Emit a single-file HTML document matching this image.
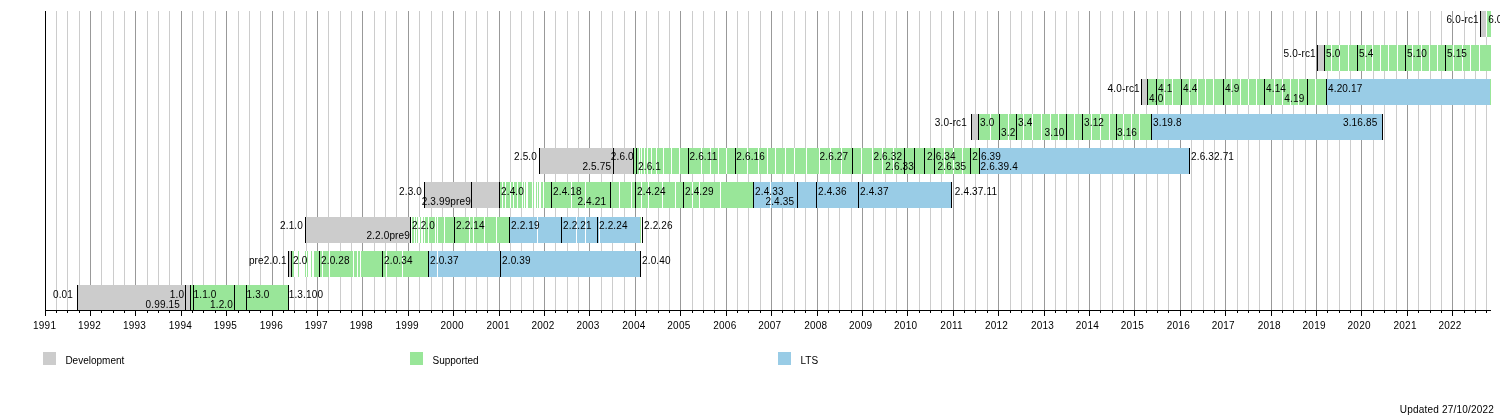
<!DOCTYPE html><html><head><meta charset="utf-8"><style>html,body{margin:0;padding:0;background:#fff;}svg{display:block;will-change:transform;}text{font-family:'Liberation Sans', Arial, Helvetica, sans-serif;font-size:10px;fill:#000;}text.l{letter-spacing:0.15px;}text.y{letter-spacing:0.25px;}</style></head><body>
<svg width="1500" height="420" viewBox="0 0 1500 420">
<rect x="0" y="0" width="1500" height="420" fill="#fff"/>
<g shape-rendering="crispEdges">
<rect x="56" y="11" width="1" height="299" fill="#cccccc"/>
<rect x="67" y="11" width="1" height="299" fill="#cccccc"/>
<rect x="79" y="11" width="1" height="299" fill="#cccccc"/>
<rect x="90" y="11" width="1" height="299" fill="#999999"/>
<rect x="101" y="11" width="1" height="299" fill="#cccccc"/>
<rect x="113" y="11" width="1" height="299" fill="#cccccc"/>
<rect x="124" y="11" width="1" height="299" fill="#cccccc"/>
<rect x="135" y="11" width="1" height="299" fill="#999999"/>
<rect x="147" y="11" width="1" height="299" fill="#cccccc"/>
<rect x="158" y="11" width="1" height="299" fill="#cccccc"/>
<rect x="169" y="11" width="1" height="299" fill="#cccccc"/>
<rect x="181" y="11" width="1" height="299" fill="#999999"/>
<rect x="192" y="11" width="1" height="299" fill="#cccccc"/>
<rect x="203" y="11" width="1" height="299" fill="#cccccc"/>
<rect x="215" y="11" width="1" height="299" fill="#cccccc"/>
<rect x="226" y="11" width="1" height="299" fill="#999999"/>
<rect x="238" y="11" width="1" height="299" fill="#cccccc"/>
<rect x="249" y="11" width="1" height="299" fill="#cccccc"/>
<rect x="260" y="11" width="1" height="299" fill="#cccccc"/>
<rect x="272" y="11" width="1" height="299" fill="#999999"/>
<rect x="283" y="11" width="1" height="299" fill="#cccccc"/>
<rect x="294" y="11" width="1" height="299" fill="#cccccc"/>
<rect x="306" y="11" width="1" height="299" fill="#cccccc"/>
<rect x="317" y="11" width="1" height="299" fill="#999999"/>
<rect x="328" y="11" width="1" height="299" fill="#cccccc"/>
<rect x="340" y="11" width="1" height="299" fill="#cccccc"/>
<rect x="351" y="11" width="1" height="299" fill="#cccccc"/>
<rect x="362" y="11" width="1" height="299" fill="#999999"/>
<rect x="374" y="11" width="1" height="299" fill="#cccccc"/>
<rect x="385" y="11" width="1" height="299" fill="#cccccc"/>
<rect x="396" y="11" width="1" height="299" fill="#cccccc"/>
<rect x="408" y="11" width="1" height="299" fill="#999999"/>
<rect x="419" y="11" width="1" height="299" fill="#cccccc"/>
<rect x="431" y="11" width="1" height="299" fill="#cccccc"/>
<rect x="442" y="11" width="1" height="299" fill="#cccccc"/>
<rect x="453" y="11" width="1" height="299" fill="#999999"/>
<rect x="465" y="11" width="1" height="299" fill="#cccccc"/>
<rect x="476" y="11" width="1" height="299" fill="#cccccc"/>
<rect x="487" y="11" width="1" height="299" fill="#cccccc"/>
<rect x="499" y="11" width="1" height="299" fill="#999999"/>
<rect x="510" y="11" width="1" height="299" fill="#cccccc"/>
<rect x="521" y="11" width="1" height="299" fill="#cccccc"/>
<rect x="533" y="11" width="1" height="299" fill="#cccccc"/>
<rect x="544" y="11" width="1" height="299" fill="#999999"/>
<rect x="555" y="11" width="1" height="299" fill="#cccccc"/>
<rect x="567" y="11" width="1" height="299" fill="#cccccc"/>
<rect x="578" y="11" width="1" height="299" fill="#cccccc"/>
<rect x="589" y="11" width="1" height="299" fill="#999999"/>
<rect x="601" y="11" width="1" height="299" fill="#cccccc"/>
<rect x="612" y="11" width="1" height="299" fill="#cccccc"/>
<rect x="624" y="11" width="1" height="299" fill="#cccccc"/>
<rect x="635" y="11" width="1" height="299" fill="#999999"/>
<rect x="646" y="11" width="1" height="299" fill="#cccccc"/>
<rect x="658" y="11" width="1" height="299" fill="#cccccc"/>
<rect x="669" y="11" width="1" height="299" fill="#cccccc"/>
<rect x="680" y="11" width="1" height="299" fill="#999999"/>
<rect x="692" y="11" width="1" height="299" fill="#cccccc"/>
<rect x="703" y="11" width="1" height="299" fill="#cccccc"/>
<rect x="714" y="11" width="1" height="299" fill="#cccccc"/>
<rect x="726" y="11" width="1" height="299" fill="#999999"/>
<rect x="737" y="11" width="1" height="299" fill="#cccccc"/>
<rect x="748" y="11" width="1" height="299" fill="#cccccc"/>
<rect x="760" y="11" width="1" height="299" fill="#cccccc"/>
<rect x="771" y="11" width="1" height="299" fill="#999999"/>
<rect x="782" y="11" width="1" height="299" fill="#cccccc"/>
<rect x="794" y="11" width="1" height="299" fill="#cccccc"/>
<rect x="805" y="11" width="1" height="299" fill="#cccccc"/>
<rect x="817" y="11" width="1" height="299" fill="#999999"/>
<rect x="828" y="11" width="1" height="299" fill="#cccccc"/>
<rect x="839" y="11" width="1" height="299" fill="#cccccc"/>
<rect x="851" y="11" width="1" height="299" fill="#cccccc"/>
<rect x="862" y="11" width="1" height="299" fill="#999999"/>
<rect x="873" y="11" width="1" height="299" fill="#cccccc"/>
<rect x="885" y="11" width="1" height="299" fill="#cccccc"/>
<rect x="896" y="11" width="1" height="299" fill="#cccccc"/>
<rect x="907" y="11" width="1" height="299" fill="#999999"/>
<rect x="919" y="11" width="1" height="299" fill="#cccccc"/>
<rect x="930" y="11" width="1" height="299" fill="#cccccc"/>
<rect x="941" y="11" width="1" height="299" fill="#cccccc"/>
<rect x="953" y="11" width="1" height="299" fill="#999999"/>
<rect x="964" y="11" width="1" height="299" fill="#cccccc"/>
<rect x="975" y="11" width="1" height="299" fill="#cccccc"/>
<rect x="987" y="11" width="1" height="299" fill="#cccccc"/>
<rect x="998" y="11" width="1" height="299" fill="#999999"/>
<rect x="1010" y="11" width="1" height="299" fill="#cccccc"/>
<rect x="1021" y="11" width="1" height="299" fill="#cccccc"/>
<rect x="1032" y="11" width="1" height="299" fill="#cccccc"/>
<rect x="1044" y="11" width="1" height="299" fill="#999999"/>
<rect x="1055" y="11" width="1" height="299" fill="#cccccc"/>
<rect x="1066" y="11" width="1" height="299" fill="#cccccc"/>
<rect x="1078" y="11" width="1" height="299" fill="#cccccc"/>
<rect x="1089" y="11" width="1" height="299" fill="#999999"/>
<rect x="1100" y="11" width="1" height="299" fill="#cccccc"/>
<rect x="1112" y="11" width="1" height="299" fill="#cccccc"/>
<rect x="1123" y="11" width="1" height="299" fill="#cccccc"/>
<rect x="1134" y="11" width="1" height="299" fill="#999999"/>
<rect x="1146" y="11" width="1" height="299" fill="#cccccc"/>
<rect x="1157" y="11" width="1" height="299" fill="#cccccc"/>
<rect x="1168" y="11" width="1" height="299" fill="#cccccc"/>
<rect x="1180" y="11" width="1" height="299" fill="#999999"/>
<rect x="1191" y="11" width="1" height="299" fill="#cccccc"/>
<rect x="1203" y="11" width="1" height="299" fill="#cccccc"/>
<rect x="1214" y="11" width="1" height="299" fill="#cccccc"/>
<rect x="1225" y="11" width="1" height="299" fill="#999999"/>
<rect x="1237" y="11" width="1" height="299" fill="#cccccc"/>
<rect x="1248" y="11" width="1" height="299" fill="#cccccc"/>
<rect x="1259" y="11" width="1" height="299" fill="#cccccc"/>
<rect x="1271" y="11" width="1" height="299" fill="#999999"/>
<rect x="1282" y="11" width="1" height="299" fill="#cccccc"/>
<rect x="1293" y="11" width="1" height="299" fill="#cccccc"/>
<rect x="1305" y="11" width="1" height="299" fill="#cccccc"/>
<rect x="1316" y="11" width="1" height="299" fill="#999999"/>
<rect x="1327" y="11" width="1" height="299" fill="#cccccc"/>
<rect x="1339" y="11" width="1" height="299" fill="#cccccc"/>
<rect x="1350" y="11" width="1" height="299" fill="#cccccc"/>
<rect x="1361" y="11" width="1" height="299" fill="#999999"/>
<rect x="1373" y="11" width="1" height="299" fill="#cccccc"/>
<rect x="1384" y="11" width="1" height="299" fill="#cccccc"/>
<rect x="1396" y="11" width="1" height="299" fill="#cccccc"/>
<rect x="1407" y="11" width="1" height="299" fill="#999999"/>
<rect x="1418" y="11" width="1" height="299" fill="#cccccc"/>
<rect x="1430" y="11" width="1" height="299" fill="#cccccc"/>
<rect x="1441" y="11" width="1" height="299" fill="#cccccc"/>
<rect x="1452" y="11" width="1" height="299" fill="#999999"/>
<rect x="1464" y="11" width="1" height="299" fill="#cccccc"/>
<rect x="1475" y="11" width="1" height="299" fill="#cccccc"/>
<rect x="1486" y="11" width="1" height="299" fill="#cccccc"/>
</g>
<g shape-rendering="crispEdges">
<rect x="1481" y="11" width="5" height="26" fill="#cccccc"/>
<rect x="1487" y="11" width="4" height="26" fill="#99e699"/>
<rect x="1486" y="11" width="1" height="26" fill="#fff"/>
<rect x="1480" y="11" width="1" height="26" fill="#000"/>
</g>
<text class="l" x="1478.8" y="23.4" text-anchor="end">6.0-rc1</text>
<text class="l" x="1488.2" y="23.4">6.0</text>
<g shape-rendering="crispEdges">
<rect x="1318" y="45" width="6" height="26" fill="#cccccc"/>
<rect x="1325" y="45" width="166" height="26" fill="#99e699"/>
<rect x="1331" y="45" width="1" height="26" fill="#fff"/>
<rect x="1339" y="45" width="1" height="26" fill="#fff"/>
<rect x="1348" y="45" width="1" height="26" fill="#fff"/>
<rect x="1365" y="45" width="1" height="26" fill="#fff"/>
<rect x="1372" y="45" width="1" height="26" fill="#fff"/>
<rect x="1380" y="45" width="1" height="26" fill="#fff"/>
<rect x="1388" y="45" width="1" height="26" fill="#fff"/>
<rect x="1397" y="45" width="1" height="26" fill="#fff"/>
<rect x="1412" y="45" width="1" height="26" fill="#fff"/>
<rect x="1421" y="45" width="1" height="26" fill="#fff"/>
<rect x="1429" y="45" width="1" height="26" fill="#fff"/>
<rect x="1437" y="45" width="1" height="26" fill="#fff"/>
<rect x="1453" y="45" width="1" height="26" fill="#fff"/>
<rect x="1462" y="45" width="1" height="26" fill="#fff"/>
<rect x="1470" y="45" width="1" height="26" fill="#fff"/>
<rect x="1479" y="45" width="1" height="26" fill="#fff"/>
<rect x="1317" y="45" width="1" height="26" fill="#000"/>
<rect x="1324" y="45" width="1" height="26" fill="#000"/>
<rect x="1357" y="45" width="1" height="26" fill="#000"/>
<rect x="1405" y="45" width="1" height="26" fill="#000"/>
<rect x="1445" y="45" width="1" height="26" fill="#000"/>
</g>
<text class="l" x="1315.8" y="57.4" text-anchor="end">5.0-rc1</text>
<text class="l" x="1326.0" y="57.4">5.0</text>
<text class="l" x="1359.0" y="57.4">5.4</text>
<text class="l" x="1407.0" y="57.4">5.10</text>
<text class="l" x="1447.0" y="57.4">5.15</text>
<g shape-rendering="crispEdges">
<rect x="1142" y="79" width="5" height="26" fill="#cccccc"/>
<rect x="1148" y="79" width="178" height="26" fill="#99e699"/>
<rect x="1327" y="79" width="163" height="26" fill="#99cce6"/>
<rect x="1490" y="79" width="1" height="26" fill="#99e699"/>
<rect x="1164" y="79" width="1" height="26" fill="#fff"/>
<rect x="1172" y="79" width="1" height="26" fill="#fff"/>
<rect x="1189" y="79" width="1" height="26" fill="#fff"/>
<rect x="1197" y="79" width="1" height="26" fill="#fff"/>
<rect x="1205" y="79" width="1" height="26" fill="#fff"/>
<rect x="1213" y="79" width="1" height="26" fill="#fff"/>
<rect x="1231" y="79" width="1" height="26" fill="#fff"/>
<rect x="1240" y="79" width="1" height="26" fill="#fff"/>
<rect x="1248" y="79" width="1" height="26" fill="#fff"/>
<rect x="1256" y="79" width="1" height="26" fill="#fff"/>
<rect x="1274" y="79" width="1" height="26" fill="#fff"/>
<rect x="1282" y="79" width="1" height="26" fill="#fff"/>
<rect x="1290" y="79" width="1" height="26" fill="#fff"/>
<rect x="1298" y="79" width="1" height="26" fill="#fff"/>
<rect x="1315" y="79" width="1" height="26" fill="#fff"/>
<rect x="1141" y="79" width="1" height="26" fill="#000"/>
<rect x="1147" y="79" width="1" height="26" fill="#000"/>
<rect x="1156" y="79" width="1" height="26" fill="#000"/>
<rect x="1181" y="79" width="1" height="26" fill="#000"/>
<rect x="1223" y="79" width="1" height="26" fill="#000"/>
<rect x="1264" y="79" width="1" height="26" fill="#000"/>
<rect x="1307" y="79" width="1" height="26" fill="#000"/>
<rect x="1326" y="79" width="1" height="26" fill="#000"/>
</g>
<text class="l" x="1139.8" y="92.4" text-anchor="end">4.0-rc1</text>
<text class="l" x="1149.0" y="102.4">4.0</text>
<text class="l" x="1158.0" y="92.4">4.1</text>
<text class="l" x="1183.0" y="92.4">4.4</text>
<text class="l" x="1225.0" y="92.4">4.9</text>
<text class="l" x="1266.0" y="92.4">4.14</text>
<text class="l" x="1304.4" y="102.4" text-anchor="end">4.19</text>
<text class="l" x="1328.0" y="92.4">4.20.17</text>
<g shape-rendering="crispEdges">
<rect x="972" y="114" width="6" height="26" fill="#cccccc"/>
<rect x="979" y="114" width="172" height="26" fill="#99e699"/>
<rect x="1152" y="114" width="230" height="26" fill="#99cce6"/>
<rect x="990" y="114" width="1" height="26" fill="#fff"/>
<rect x="1008" y="114" width="1" height="26" fill="#fff"/>
<rect x="1023" y="114" width="1" height="26" fill="#fff"/>
<rect x="1032" y="114" width="1" height="26" fill="#fff"/>
<rect x="1041" y="114" width="1" height="26" fill="#fff"/>
<rect x="1050" y="114" width="1" height="26" fill="#fff"/>
<rect x="1058" y="114" width="1" height="26" fill="#fff"/>
<rect x="1074" y="114" width="1" height="26" fill="#fff"/>
<rect x="1091" y="114" width="1" height="26" fill="#fff"/>
<rect x="1100" y="114" width="1" height="26" fill="#fff"/>
<rect x="1109" y="114" width="1" height="26" fill="#fff"/>
<rect x="1123" y="114" width="1" height="26" fill="#fff"/>
<rect x="1131" y="114" width="1" height="26" fill="#fff"/>
<rect x="1139" y="114" width="1" height="26" fill="#fff"/>
<rect x="971" y="114" width="1" height="26" fill="#000"/>
<rect x="978" y="114" width="1" height="26" fill="#000"/>
<rect x="999" y="114" width="1" height="26" fill="#000"/>
<rect x="1016" y="114" width="1" height="26" fill="#000"/>
<rect x="1066" y="114" width="1" height="26" fill="#000"/>
<rect x="1082" y="114" width="1" height="26" fill="#000"/>
<rect x="1116" y="114" width="1" height="26" fill="#000"/>
<rect x="1151" y="114" width="1" height="26" fill="#000"/>
<rect x="1382" y="114" width="1" height="26" fill="#000"/>
</g>
<text class="l" x="967.0" y="126.4" text-anchor="end">3.0-rc1</text>
<text class="l" x="980.0" y="126.4">3.0</text>
<text class="l" x="1001.0" y="136.4">3.2</text>
<text class="l" x="1018.0" y="126.4">3.4</text>
<text class="l" x="1064.6" y="136.4" text-anchor="end">3.10</text>
<text class="l" x="1084.0" y="126.4">3.12</text>
<text class="l" x="1117.0" y="136.4">3.16</text>
<text class="l" x="1153.0" y="126.4">3.19.8</text>
<text class="l" x="1377.4" y="126.4" text-anchor="end">3.16.85</text>
<g shape-rendering="crispEdges">
<rect x="540" y="148" width="93" height="26" fill="#cccccc"/>
<rect x="634" y="148" width="345" height="26" fill="#99e699"/>
<rect x="980" y="148" width="209" height="26" fill="#99cce6"/>
<rect x="639" y="148" width="1" height="26" fill="#fff"/>
<rect x="641" y="148" width="1" height="26" fill="#fff"/>
<rect x="644" y="148" width="1" height="26" fill="#fff"/>
<rect x="647" y="148" width="1" height="26" fill="#fff"/>
<rect x="651" y="148" width="1" height="26" fill="#fff"/>
<rect x="656" y="148" width="1" height="26" fill="#fff"/>
<rect x="663" y="148" width="1" height="26" fill="#fff"/>
<rect x="671" y="148" width="1" height="26" fill="#fff"/>
<rect x="679" y="148" width="1" height="26" fill="#fff"/>
<rect x="701" y="148" width="1" height="26" fill="#fff"/>
<rect x="710" y="148" width="1" height="26" fill="#fff"/>
<rect x="718" y="148" width="1" height="26" fill="#fff"/>
<rect x="726" y="148" width="1" height="26" fill="#fff"/>
<rect x="747" y="148" width="1" height="26" fill="#fff"/>
<rect x="758" y="148" width="1" height="26" fill="#fff"/>
<rect x="767" y="148" width="1" height="26" fill="#fff"/>
<rect x="775" y="148" width="1" height="26" fill="#fff"/>
<rect x="785" y="148" width="1" height="26" fill="#fff"/>
<rect x="794" y="148" width="1" height="26" fill="#fff"/>
<rect x="806" y="148" width="1" height="26" fill="#fff"/>
<rect x="819" y="148" width="1" height="26" fill="#fff"/>
<rect x="830" y="148" width="1" height="26" fill="#fff"/>
<rect x="841" y="148" width="1" height="26" fill="#fff"/>
<rect x="861" y="148" width="1" height="26" fill="#fff"/>
<rect x="872" y="148" width="1" height="26" fill="#fff"/>
<rect x="882" y="148" width="1" height="26" fill="#fff"/>
<rect x="893" y="148" width="1" height="26" fill="#fff"/>
<rect x="944" y="148" width="1" height="26" fill="#fff"/>
<rect x="953" y="148" width="1" height="26" fill="#fff"/>
<rect x="962" y="148" width="1" height="26" fill="#fff"/>
<rect x="539" y="148" width="1" height="26" fill="#000"/>
<rect x="613" y="148" width="1" height="26" fill="#000"/>
<rect x="633" y="148" width="1" height="26" fill="#000"/>
<rect x="636" y="148" width="1" height="26" fill="#000"/>
<rect x="688" y="148" width="1" height="26" fill="#000"/>
<rect x="735" y="148" width="1" height="26" fill="#000"/>
<rect x="852" y="148" width="1" height="26" fill="#000"/>
<rect x="904" y="148" width="1" height="26" fill="#000"/>
<rect x="914" y="148" width="1" height="26" fill="#000"/>
<rect x="924" y="148" width="1" height="26" fill="#000"/>
<rect x="934" y="148" width="1" height="26" fill="#000"/>
<rect x="970" y="148" width="1" height="26" fill="#000"/>
<rect x="979" y="148" width="1" height="26" fill="#000"/>
<rect x="1189" y="148" width="1" height="26" fill="#000"/>
</g>
<text class="l" x="537.0" y="160.4" text-anchor="end">2.5.0</text>
<text class="l" x="611.1" y="170.4" text-anchor="end">2.5.75</text>
<text class="l" x="633.8" y="160.4" text-anchor="end">2.6.0</text>
<text class="l" x="638.0" y="170.4">2.6.1</text>
<text class="l" x="689.5" y="160.4">2.6.11</text>
<text class="l" x="736.3" y="160.4">2.6.16</text>
<text class="l" x="848.3" y="160.4" text-anchor="end">2.6.27</text>
<text class="l" x="902.2" y="160.4" text-anchor="end">2.6.32</text>
<text class="l" x="914.0" y="170.4" text-anchor="end">2.6.33</text>
<text class="l" x="927.0" y="160.4">2.6.34</text>
<text class="l" x="937.5" y="170.4">2.6.35</text>
<text class="l" x="972.3" y="160.4">2.6.39</text>
<text class="l" x="980.5" y="170.4">2.6.39.4</text>
<text class="l" x="1191.0" y="160.4">2.6.32.71</text>
<g shape-rendering="crispEdges">
<rect x="425" y="182" width="74" height="26" fill="#cccccc"/>
<rect x="500" y="182" width="253" height="26" fill="#99e699"/>
<rect x="754" y="182" width="197" height="26" fill="#99cce6"/>
<rect x="502" y="182" width="1" height="26" fill="#fff"/>
<rect x="505" y="182" width="1" height="26" fill="#fff"/>
<rect x="510" y="182" width="1" height="26" fill="#fff"/>
<rect x="513" y="182" width="1" height="26" fill="#fff"/>
<rect x="517" y="182" width="1" height="26" fill="#fff"/>
<rect x="522" y="182" width="1" height="26" fill="#fff"/>
<rect x="524" y="182" width="1" height="26" fill="#fff"/>
<rect x="526" y="182" width="1" height="26" fill="#fff"/>
<rect x="527" y="182" width="1" height="26" fill="#fff"/>
<rect x="532" y="182" width="1" height="26" fill="#fff"/>
<rect x="534" y="182" width="1" height="26" fill="#fff"/>
<rect x="535" y="182" width="1" height="26" fill="#fff"/>
<rect x="537" y="182" width="1" height="26" fill="#fff"/>
<rect x="539" y="182" width="1" height="26" fill="#fff"/>
<rect x="540" y="182" width="1" height="26" fill="#fff"/>
<rect x="543" y="182" width="1" height="26" fill="#fff"/>
<rect x="571" y="182" width="1" height="26" fill="#fff"/>
<rect x="585" y="182" width="1" height="26" fill="#fff"/>
<rect x="619" y="182" width="1" height="26" fill="#fff"/>
<rect x="631" y="182" width="1" height="26" fill="#fff"/>
<rect x="641" y="182" width="1" height="26" fill="#fff"/>
<rect x="648" y="182" width="1" height="26" fill="#fff"/>
<rect x="662" y="182" width="1" height="26" fill="#fff"/>
<rect x="675" y="182" width="1" height="26" fill="#fff"/>
<rect x="692" y="182" width="1" height="26" fill="#fff"/>
<rect x="699" y="182" width="1" height="26" fill="#fff"/>
<rect x="720" y="182" width="1" height="26" fill="#fff"/>
<rect x="770" y="182" width="1" height="26" fill="#fff"/>
<rect x="424" y="182" width="1" height="26" fill="#000"/>
<rect x="471" y="182" width="1" height="26" fill="#000"/>
<rect x="499" y="182" width="1" height="26" fill="#000"/>
<rect x="551" y="182" width="1" height="26" fill="#000"/>
<rect x="610" y="182" width="1" height="26" fill="#000"/>
<rect x="635" y="182" width="1" height="26" fill="#000"/>
<rect x="683" y="182" width="1" height="26" fill="#000"/>
<rect x="753" y="182" width="1" height="26" fill="#000"/>
<rect x="797" y="182" width="1" height="26" fill="#000"/>
<rect x="816" y="182" width="1" height="26" fill="#000"/>
<rect x="858" y="182" width="1" height="26" fill="#000"/>
<rect x="951" y="182" width="1" height="26" fill="#000"/>
</g>
<text class="l" x="422.0" y="195.4" text-anchor="end">2.3.0</text>
<text class="l" x="471.0" y="205.4" text-anchor="end">2.3.99pre9</text>
<text class="l" x="501.0" y="195.4">2.4.0</text>
<text class="l" x="553.0" y="195.4">2.4.18</text>
<text class="l" x="606.1" y="205.4" text-anchor="end">2.4.21</text>
<text class="l" x="637.0" y="195.4">2.4.24</text>
<text class="l" x="685.0" y="195.4">2.4.29</text>
<text class="l" x="755.0" y="195.4">2.4.33</text>
<text class="l" x="794.2" y="205.4" text-anchor="end">2.4.35</text>
<text class="l" x="818.0" y="195.4">2.4.36</text>
<text class="l" x="860.0" y="195.4">2.4.37</text>
<text class="l" x="954.8" y="195.4">2.4.37.11</text>
<g shape-rendering="crispEdges">
<rect x="306" y="217" width="104" height="26" fill="#cccccc"/>
<rect x="412" y="217" width="97" height="26" fill="#99e699"/>
<rect x="510" y="217" width="130" height="26" fill="#99cce6"/>
<rect x="640" y="217" width="1" height="26" fill="#99e699"/>
<rect x="411" y="217" width="1" height="26" fill="#fff"/>
<rect x="414" y="217" width="1" height="26" fill="#fff"/>
<rect x="416" y="217" width="1" height="26" fill="#fff"/>
<rect x="418" y="217" width="1" height="26" fill="#fff"/>
<rect x="419" y="217" width="1" height="26" fill="#fff"/>
<rect x="421" y="217" width="1" height="26" fill="#fff"/>
<rect x="422" y="217" width="1" height="26" fill="#fff"/>
<rect x="424" y="217" width="1" height="26" fill="#fff"/>
<rect x="428" y="217" width="1" height="26" fill="#fff"/>
<rect x="435" y="217" width="1" height="26" fill="#fff"/>
<rect x="437" y="217" width="1" height="26" fill="#fff"/>
<rect x="444" y="217" width="1" height="26" fill="#fff"/>
<rect x="469" y="217" width="1" height="26" fill="#fff"/>
<rect x="473" y="217" width="1" height="26" fill="#fff"/>
<rect x="484" y="217" width="1" height="26" fill="#fff"/>
<rect x="496" y="217" width="1" height="26" fill="#fff"/>
<rect x="537" y="217" width="1" height="26" fill="#fff"/>
<rect x="576" y="217" width="1" height="26" fill="#fff"/>
<rect x="585" y="217" width="1" height="26" fill="#fff"/>
<rect x="599" y="217" width="1" height="26" fill="#fff"/>
<rect x="641" y="217" width="1" height="26" fill="#fff"/>
<rect x="305" y="217" width="1" height="26" fill="#000"/>
<rect x="410" y="217" width="1" height="26" fill="#000"/>
<rect x="454" y="217" width="1" height="26" fill="#000"/>
<rect x="509" y="217" width="1" height="26" fill="#000"/>
<rect x="561" y="217" width="1" height="26" fill="#000"/>
<rect x="597" y="217" width="1" height="26" fill="#000"/>
<rect x="642" y="217" width="1" height="26" fill="#000"/>
</g>
<text class="l" x="303.0" y="229.4" text-anchor="end">2.1.0</text>
<text class="l" x="410.0" y="239.4" text-anchor="end">2.2.0pre9</text>
<text class="l" x="412.0" y="229.4">2.2.0</text>
<text class="l" x="456.0" y="229.4">2.2.14</text>
<text class="l" x="511.0" y="229.4">2.2.19</text>
<text class="l" x="563.0" y="229.4">2.2.21</text>
<text class="l" x="599.0" y="229.4">2.2.24</text>
<text class="l" x="644.0" y="229.4">2.2.26</text>
<g shape-rendering="crispEdges">
<rect x="289" y="251" width="2" height="26" fill="#cccccc"/>
<rect x="292" y="251" width="136" height="26" fill="#99e699"/>
<rect x="429" y="251" width="211" height="26" fill="#99cce6"/>
<rect x="294" y="251" width="1" height="26" fill="#fff"/>
<rect x="295" y="251" width="1" height="26" fill="#fff"/>
<rect x="296" y="251" width="1" height="26" fill="#fff"/>
<rect x="297" y="251" width="1" height="26" fill="#fff"/>
<rect x="299" y="251" width="1" height="26" fill="#fff"/>
<rect x="300" y="251" width="1" height="26" fill="#fff"/>
<rect x="301" y="251" width="1" height="26" fill="#fff"/>
<rect x="302" y="251" width="1" height="26" fill="#fff"/>
<rect x="303" y="251" width="1" height="26" fill="#fff"/>
<rect x="304" y="251" width="1" height="26" fill="#fff"/>
<rect x="306" y="251" width="1" height="26" fill="#fff"/>
<rect x="308" y="251" width="1" height="26" fill="#fff"/>
<rect x="309" y="251" width="1" height="26" fill="#fff"/>
<rect x="310" y="251" width="1" height="26" fill="#fff"/>
<rect x="312" y="251" width="1" height="26" fill="#fff"/>
<rect x="313" y="251" width="1" height="26" fill="#fff"/>
<rect x="322" y="251" width="1" height="26" fill="#fff"/>
<rect x="329" y="251" width="1" height="26" fill="#fff"/>
<rect x="353" y="251" width="1" height="26" fill="#fff"/>
<rect x="357" y="251" width="1" height="26" fill="#fff"/>
<rect x="360" y="251" width="1" height="26" fill="#fff"/>
<rect x="386" y="251" width="1" height="26" fill="#fff"/>
<rect x="402" y="251" width="1" height="26" fill="#fff"/>
<rect x="437" y="251" width="1" height="26" fill="#fff"/>
<rect x="288" y="251" width="1" height="26" fill="#000"/>
<rect x="291" y="251" width="1" height="26" fill="#000"/>
<rect x="319" y="251" width="1" height="26" fill="#000"/>
<rect x="382" y="251" width="1" height="26" fill="#000"/>
<rect x="428" y="251" width="1" height="26" fill="#000"/>
<rect x="500" y="251" width="1" height="26" fill="#000"/>
<rect x="640" y="251" width="1" height="26" fill="#000"/>
</g>
<text class="l" x="286.8" y="264.4" text-anchor="end">pre2.0.1</text>
<text class="l" x="293.0" y="264.4">2.0</text>
<text class="l" x="321.0" y="264.4">2.0.28</text>
<text class="l" x="384.0" y="264.4">2.0.34</text>
<text class="l" x="430.0" y="264.4">2.0.37</text>
<text class="l" x="502.0" y="264.4">2.0.39</text>
<text class="l" x="642.0" y="264.4">2.0.40</text>
<g shape-rendering="crispEdges">
<rect x="78" y="285" width="112" height="26" fill="#cccccc"/>
<rect x="191" y="285" width="97" height="26" fill="#99e699"/>
<rect x="77" y="285" width="1" height="26" fill="#000"/>
<rect x="185" y="285" width="1" height="26" fill="#000"/>
<rect x="190" y="285" width="1" height="26" fill="#000"/>
<rect x="193" y="285" width="1" height="26" fill="#000"/>
<rect x="234" y="285" width="1" height="26" fill="#000"/>
<rect x="246" y="285" width="1" height="26" fill="#000"/>
<rect x="288" y="285" width="1" height="26" fill="#000"/>
</g>
<text class="l" x="73.0" y="298.4" text-anchor="end">0.01</text>
<text class="l" x="184.2" y="298.4" text-anchor="end">1.0</text>
<text class="l" x="180.0" y="308.4" text-anchor="end">0.99.15</text>
<text class="l" x="193.5" y="298.4">1.1.0</text>
<text class="l" x="233.0" y="308.4" text-anchor="end">1.2.0</text>
<text class="l" x="246.5" y="298.4">1.3.0</text>
<text class="l" x="288.7" y="298.4">1.3.100</text>
<g shape-rendering="crispEdges">
<rect x="45" y="11" width="1" height="300" fill="#000"/>
<rect x="45" y="310" width="1446" height="1" fill="#000"/>
<rect x="45" y="311" width="1" height="5" fill="#000"/>
<rect x="56" y="311" width="1" height="2" fill="#000"/>
<rect x="67" y="311" width="1" height="2" fill="#000"/>
<rect x="79" y="311" width="1" height="2" fill="#000"/>
<rect x="90" y="311" width="1" height="5" fill="#000"/>
<rect x="101" y="311" width="1" height="2" fill="#000"/>
<rect x="113" y="311" width="1" height="2" fill="#000"/>
<rect x="124" y="311" width="1" height="2" fill="#000"/>
<rect x="135" y="311" width="1" height="5" fill="#000"/>
<rect x="147" y="311" width="1" height="2" fill="#000"/>
<rect x="158" y="311" width="1" height="2" fill="#000"/>
<rect x="169" y="311" width="1" height="2" fill="#000"/>
<rect x="181" y="311" width="1" height="5" fill="#000"/>
<rect x="192" y="311" width="1" height="2" fill="#000"/>
<rect x="203" y="311" width="1" height="2" fill="#000"/>
<rect x="215" y="311" width="1" height="2" fill="#000"/>
<rect x="226" y="311" width="1" height="5" fill="#000"/>
<rect x="238" y="311" width="1" height="2" fill="#000"/>
<rect x="249" y="311" width="1" height="2" fill="#000"/>
<rect x="260" y="311" width="1" height="2" fill="#000"/>
<rect x="272" y="311" width="1" height="5" fill="#000"/>
<rect x="283" y="311" width="1" height="2" fill="#000"/>
<rect x="294" y="311" width="1" height="2" fill="#000"/>
<rect x="306" y="311" width="1" height="2" fill="#000"/>
<rect x="317" y="311" width="1" height="5" fill="#000"/>
<rect x="328" y="311" width="1" height="2" fill="#000"/>
<rect x="340" y="311" width="1" height="2" fill="#000"/>
<rect x="351" y="311" width="1" height="2" fill="#000"/>
<rect x="362" y="311" width="1" height="5" fill="#000"/>
<rect x="374" y="311" width="1" height="2" fill="#000"/>
<rect x="385" y="311" width="1" height="2" fill="#000"/>
<rect x="396" y="311" width="1" height="2" fill="#000"/>
<rect x="408" y="311" width="1" height="5" fill="#000"/>
<rect x="419" y="311" width="1" height="2" fill="#000"/>
<rect x="431" y="311" width="1" height="2" fill="#000"/>
<rect x="442" y="311" width="1" height="2" fill="#000"/>
<rect x="453" y="311" width="1" height="5" fill="#000"/>
<rect x="465" y="311" width="1" height="2" fill="#000"/>
<rect x="476" y="311" width="1" height="2" fill="#000"/>
<rect x="487" y="311" width="1" height="2" fill="#000"/>
<rect x="499" y="311" width="1" height="5" fill="#000"/>
<rect x="510" y="311" width="1" height="2" fill="#000"/>
<rect x="521" y="311" width="1" height="2" fill="#000"/>
<rect x="533" y="311" width="1" height="2" fill="#000"/>
<rect x="544" y="311" width="1" height="5" fill="#000"/>
<rect x="555" y="311" width="1" height="2" fill="#000"/>
<rect x="567" y="311" width="1" height="2" fill="#000"/>
<rect x="578" y="311" width="1" height="2" fill="#000"/>
<rect x="589" y="311" width="1" height="5" fill="#000"/>
<rect x="601" y="311" width="1" height="2" fill="#000"/>
<rect x="612" y="311" width="1" height="2" fill="#000"/>
<rect x="624" y="311" width="1" height="2" fill="#000"/>
<rect x="635" y="311" width="1" height="5" fill="#000"/>
<rect x="646" y="311" width="1" height="2" fill="#000"/>
<rect x="658" y="311" width="1" height="2" fill="#000"/>
<rect x="669" y="311" width="1" height="2" fill="#000"/>
<rect x="680" y="311" width="1" height="5" fill="#000"/>
<rect x="692" y="311" width="1" height="2" fill="#000"/>
<rect x="703" y="311" width="1" height="2" fill="#000"/>
<rect x="714" y="311" width="1" height="2" fill="#000"/>
<rect x="726" y="311" width="1" height="5" fill="#000"/>
<rect x="737" y="311" width="1" height="2" fill="#000"/>
<rect x="748" y="311" width="1" height="2" fill="#000"/>
<rect x="760" y="311" width="1" height="2" fill="#000"/>
<rect x="771" y="311" width="1" height="5" fill="#000"/>
<rect x="782" y="311" width="1" height="2" fill="#000"/>
<rect x="794" y="311" width="1" height="2" fill="#000"/>
<rect x="805" y="311" width="1" height="2" fill="#000"/>
<rect x="817" y="311" width="1" height="5" fill="#000"/>
<rect x="828" y="311" width="1" height="2" fill="#000"/>
<rect x="839" y="311" width="1" height="2" fill="#000"/>
<rect x="851" y="311" width="1" height="2" fill="#000"/>
<rect x="862" y="311" width="1" height="5" fill="#000"/>
<rect x="873" y="311" width="1" height="2" fill="#000"/>
<rect x="885" y="311" width="1" height="2" fill="#000"/>
<rect x="896" y="311" width="1" height="2" fill="#000"/>
<rect x="907" y="311" width="1" height="5" fill="#000"/>
<rect x="919" y="311" width="1" height="2" fill="#000"/>
<rect x="930" y="311" width="1" height="2" fill="#000"/>
<rect x="941" y="311" width="1" height="2" fill="#000"/>
<rect x="953" y="311" width="1" height="5" fill="#000"/>
<rect x="964" y="311" width="1" height="2" fill="#000"/>
<rect x="975" y="311" width="1" height="2" fill="#000"/>
<rect x="987" y="311" width="1" height="2" fill="#000"/>
<rect x="998" y="311" width="1" height="5" fill="#000"/>
<rect x="1010" y="311" width="1" height="2" fill="#000"/>
<rect x="1021" y="311" width="1" height="2" fill="#000"/>
<rect x="1032" y="311" width="1" height="2" fill="#000"/>
<rect x="1044" y="311" width="1" height="5" fill="#000"/>
<rect x="1055" y="311" width="1" height="2" fill="#000"/>
<rect x="1066" y="311" width="1" height="2" fill="#000"/>
<rect x="1078" y="311" width="1" height="2" fill="#000"/>
<rect x="1089" y="311" width="1" height="5" fill="#000"/>
<rect x="1100" y="311" width="1" height="2" fill="#000"/>
<rect x="1112" y="311" width="1" height="2" fill="#000"/>
<rect x="1123" y="311" width="1" height="2" fill="#000"/>
<rect x="1134" y="311" width="1" height="5" fill="#000"/>
<rect x="1146" y="311" width="1" height="2" fill="#000"/>
<rect x="1157" y="311" width="1" height="2" fill="#000"/>
<rect x="1168" y="311" width="1" height="2" fill="#000"/>
<rect x="1180" y="311" width="1" height="5" fill="#000"/>
<rect x="1191" y="311" width="1" height="2" fill="#000"/>
<rect x="1203" y="311" width="1" height="2" fill="#000"/>
<rect x="1214" y="311" width="1" height="2" fill="#000"/>
<rect x="1225" y="311" width="1" height="5" fill="#000"/>
<rect x="1237" y="311" width="1" height="2" fill="#000"/>
<rect x="1248" y="311" width="1" height="2" fill="#000"/>
<rect x="1259" y="311" width="1" height="2" fill="#000"/>
<rect x="1271" y="311" width="1" height="5" fill="#000"/>
<rect x="1282" y="311" width="1" height="2" fill="#000"/>
<rect x="1293" y="311" width="1" height="2" fill="#000"/>
<rect x="1305" y="311" width="1" height="2" fill="#000"/>
<rect x="1316" y="311" width="1" height="5" fill="#000"/>
<rect x="1327" y="311" width="1" height="2" fill="#000"/>
<rect x="1339" y="311" width="1" height="2" fill="#000"/>
<rect x="1350" y="311" width="1" height="2" fill="#000"/>
<rect x="1361" y="311" width="1" height="5" fill="#000"/>
<rect x="1373" y="311" width="1" height="2" fill="#000"/>
<rect x="1384" y="311" width="1" height="2" fill="#000"/>
<rect x="1396" y="311" width="1" height="2" fill="#000"/>
<rect x="1407" y="311" width="1" height="5" fill="#000"/>
<rect x="1418" y="311" width="1" height="2" fill="#000"/>
<rect x="1430" y="311" width="1" height="2" fill="#000"/>
<rect x="1441" y="311" width="1" height="2" fill="#000"/>
<rect x="1452" y="311" width="1" height="5" fill="#000"/>
<rect x="1464" y="311" width="1" height="2" fill="#000"/>
<rect x="1475" y="311" width="1" height="2" fill="#000"/>
<rect x="1486" y="311" width="1" height="2" fill="#000"/>
</g>
<text class="y" x="44.60" y="328.7" text-anchor="middle">1991</text>
<text class="y" x="89.55" y="328.7" text-anchor="middle">1992</text>
<text class="y" x="134.50" y="328.7" text-anchor="middle">1993</text>
<text class="y" x="180.45" y="328.7" text-anchor="middle">1994</text>
<text class="y" x="225.40" y="328.7" text-anchor="middle">1995</text>
<text class="y" x="271.35" y="328.7" text-anchor="middle">1996</text>
<text class="y" x="316.30" y="328.7" text-anchor="middle">1997</text>
<text class="y" x="361.25" y="328.7" text-anchor="middle">1998</text>
<text class="y" x="407.20" y="328.7" text-anchor="middle">1999</text>
<text class="y" x="452.15" y="328.7" text-anchor="middle">2000</text>
<text class="y" x="498.10" y="328.7" text-anchor="middle">2001</text>
<text class="y" x="543.05" y="328.7" text-anchor="middle">2002</text>
<text class="y" x="588.00" y="328.7" text-anchor="middle">2003</text>
<text class="y" x="633.95" y="328.7" text-anchor="middle">2004</text>
<text class="y" x="678.90" y="328.7" text-anchor="middle">2005</text>
<text class="y" x="724.85" y="328.7" text-anchor="middle">2006</text>
<text class="y" x="769.80" y="328.7" text-anchor="middle">2007</text>
<text class="y" x="815.75" y="328.7" text-anchor="middle">2008</text>
<text class="y" x="860.70" y="328.7" text-anchor="middle">2009</text>
<text class="y" x="905.65" y="328.7" text-anchor="middle">2010</text>
<text class="y" x="951.60" y="328.7" text-anchor="middle">2011</text>
<text class="y" x="996.55" y="328.7" text-anchor="middle">2012</text>
<text class="y" x="1042.50" y="328.7" text-anchor="middle">2013</text>
<text class="y" x="1087.45" y="328.7" text-anchor="middle">2014</text>
<text class="y" x="1132.40" y="328.7" text-anchor="middle">2015</text>
<text class="y" x="1178.35" y="328.7" text-anchor="middle">2016</text>
<text class="y" x="1223.30" y="328.7" text-anchor="middle">2017</text>
<text class="y" x="1269.25" y="328.7" text-anchor="middle">2018</text>
<text class="y" x="1314.20" y="328.7" text-anchor="middle">2019</text>
<text class="y" x="1359.15" y="328.7" text-anchor="middle">2020</text>
<text class="y" x="1405.10" y="328.7" text-anchor="middle">2021</text>
<text class="y" x="1450.05" y="328.7" text-anchor="middle">2022</text>
<rect x="43" y="352" width="13" height="13" fill="#cccccc" shape-rendering="crispEdges"/>
<text x="65.4" y="363.9" style="font-size:10px">Development</text>
<rect x="410" y="352" width="13" height="13" fill="#99e699" shape-rendering="crispEdges"/>
<text x="432.5" y="363.9" style="font-size:10px">Supported</text>
<rect x="778" y="352" width="13" height="13" fill="#99cce6" shape-rendering="crispEdges"/>
<text x="800.5" y="363.9" style="font-size:10px">LTS</text>
<text x="1494" y="412.8" text-anchor="end" style="font-size:10px;letter-spacing:0.2px">Updated 27/10/2022</text>
</svg></body></html>
